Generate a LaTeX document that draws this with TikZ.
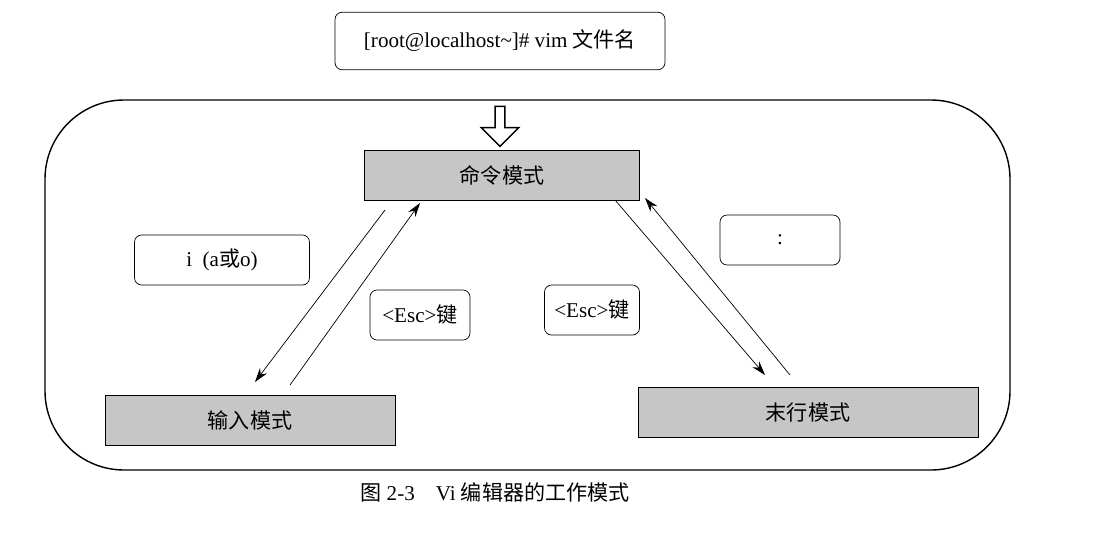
\documentclass[tikz,border=0pt]{standalone}
\usepackage{fontspec}
\setmainfont{Liberation Serif}
\newfontfamily\cjk{Noto Sans CJK SC}
\usetikzlibrary{arrows.meta,shapes.arrows}
\begin{document}
\begin{tikzpicture}[x=0.02cm,y=-0.02cm,
  mode/.style={draw,fill=gray!45,minimum height=1cm,font=\cjk\large},
  lab/.style={draw,rounded corners=4pt,minimum height=1cm,font=\large},
  arr/.style={-{Stealth[length=8pt,width=5pt]},thin}]
\useasboundingbox (0,0) rectangle (1108,538);
\draw[thick,rounded corners=45pt] (45,100) rectangle (1010,470);
\node[lab,minimum width=6.6cm,minimum height=1.15cm] (vim) at (500,41) {[root@localhost\textasciitilde]\# vim {\cjk\itshape 文件名}};
\node[draw,thick,single arrow,shape border rotate=270,minimum height=0.8cm,single arrow head extend=4pt,minimum width=0.75cm,inner sep=1pt] (down) at (500,124) {};
\node[mode,minimum width=5.5cm] (cmd) at (502,175) {命令模式};
\node[mode,minimum width=5.8cm] (inp) at (250,420) {输入模式};
\node[mode,minimum width=6.8cm] (last) at (808,412) {末行模式};
\node[lab,minimum width=3.5cm] (i) at (222,260) {i\enspace(a{\cjk 或}o)};
\node[lab,minimum width=2cm] (e1) at (420,315) {<Esc>{\cjk 键}};
\node[lab,minimum width=1.9cm] (e2) at (592,310) {<Esc>{\cjk 键}};
\node[lab,minimum width=2.4cm] (colon) at (780,240) {:};
\coordinate (a1) at (385,210); \coordinate (a2) at (255,382);
\coordinate (b1) at (290,385); \coordinate (b2) at (420,203);
\coordinate (c1) at (615,200); \coordinate (c2) at (765,375);
\coordinate (d1) at (790,375); \coordinate (d2) at (645,198);
\draw[arr] (a1) -- (a2);
\draw[arr] (b1) -- (b2);
\draw[arr] (c1) -- (c2);
\draw[arr] (d1) -- (d2);
\node[font=\large] (cap) at (495,492) {{\cjk 图} 2-3\quad Vi {\cjk 编辑器的工作模式}};
\end{tikzpicture}
\end{document}
